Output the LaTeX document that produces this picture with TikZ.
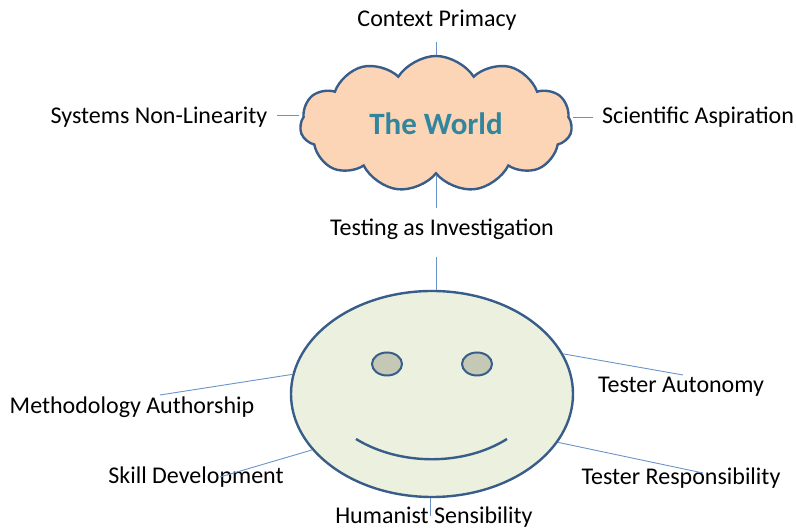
\documentclass[tikz,border=0pt]{standalone}
\usepackage{fontspec}
\setmainfont{Carlito}
\usetikzlibrary{shapes.symbols, shapes.geometric, positioning}
\definecolor{outline}{HTML}{385D8A}
\definecolor{spokeblue}{HTML}{6A94C8}
\definecolor{peach}{HTML}{FBD5B5}
\definecolor{teal}{HTML}{31859C}
\definecolor{facegreen}{HTML}{EBF1DE}
\definecolor{eyegray}{HTML}{C4C8B5}
\tikzset{
label text/.style={font=\fontsize{24}{27}\selectfont, inner sep=2pt}, % the texts round the two shapes
spoke/.style={draw=spokeblue, line width=0.9pt}, % the thin lines to the texts
thick outline/.style={draw=outline, line width=2.4pt}, % border of cloud, face and eyes
}

\begin{document}
\begin{tikzpicture}[x=1pt, y=1pt]
\useasboundingbox (0,0) rectangle (796,529);
% the world
\node[cloud, cloud puffs=11, cloud puff arc=115, aspect=2, thick outline, fill=peach,
  minimum width=272pt, minimum height=136pt, inner sep=0pt,
  text=teal, font=\fontsize{31}{34}\selectfont\bfseries] (world) at (436,405) {The World\hspace{20pt}};
\node[label text] (cp) at (437,509) {Context Primacy};
\node[label text] (snl) at (159,412) {Systems Non-Linearity};
\node[label text] (sa) at (698,412) {Scientific Aspiration};
\node[label text] (tai) at (442,300) {Testing as Investigation};
% the tester
\node[ellipse, thick outline, fill=facegreen, minimum width=282pt, minimum height=206pt] (face) at (432,135) {};
\node[ellipse, thick outline, line width=2pt, fill=eyegray, minimum width=30pt, minimum height=23pt] (lefteye) at (387,165) {};
\node[ellipse, thick outline, line width=2pt, fill=eyegray, minimum width=30pt, minimum height=23pt] (righteye) at (477,165) {};
\draw[thick outline] (356,90) .. controls (400,63) and (464,63) .. (507,90);
\node[label text] (ma) at (132,122) {Methodology Authorship};
\node[label text] (sd) at (196,52) {Skill Development};
\node[label text] (ta) at (681,142) {Tester Autonomy};
\node[label text] (tr) at (681,51) {Tester Responsibility};
\node[label text] (hs) at (434,12) {Humanist Sensibility};
% free ends of the spokes
\coordinate (cp-end) at (436,487);
\coordinate (snl-end) at (277,414);
\coordinate (sa-end) at (593,412);
\coordinate (tai-up) at (436,321);
\coordinate (tai-down) at (436,272);
\coordinate (ma-end) at (160,134);
\coordinate (sd-end) at (220,52);
\coordinate (ta-end) at (683,154);
\coordinate (tr-end) at (703,56);
\coordinate (hs-end) at (430,13);
\draw[spoke] (cp-end) -- (world.north -| cp-end);
\draw[spoke] (snl-end) -- (world.west |- snl-end);
\draw[spoke] (sa-end) -- (world.east |- sa-end);
\draw[spoke] (tai-up) -- (world.south -| tai-up);
\draw[spoke] (tai-down) -- (face.north -| tai-down);
\draw[spoke] (ma-end) -- (face.172);
\draw[spoke] (sd-end) -- (face.205);
\draw[spoke] (ta-end) -- (face.17);
\draw[spoke] (tr-end) -- (face.-21);
\draw[spoke] (hs-end) -- (face.south -| hs-end);
\end{tikzpicture}
\end{document}
